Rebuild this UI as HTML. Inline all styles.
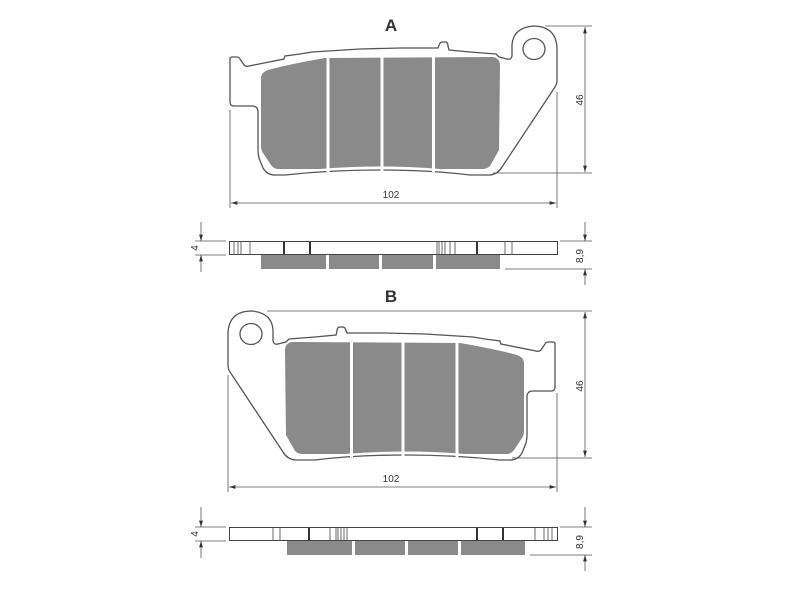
<!DOCTYPE html>
<html><head><meta charset="utf-8"><style>
html,body{margin:0;padding:0;background:#fff;width:800px;height:600px;overflow:hidden}
svg{display:block}
text{font-family:"Liberation Sans",sans-serif;fill:#333}
</style></head><body>
<svg width="800" height="600" viewBox="0 0 800 600" xmlns="http://www.w3.org/2000/svg">
<defs>
<g id="pad">
  <path d="M230,59 Q230,57 232,57 L237,57 Q239,57 240,59 L244,65 Q246,67 249,66 L284,59 L285,56 L300,54 L312,52 L360,49 L400,48 L438,48 L440,43 Q441,42 443,42 L446,42 Q448,43 448,46 L449,50 L470,52 L496,54 L499,57 L507,59 Q511,60 512,56 L512,45 Q513,28 533,26 Q556,26 557,48 L557,80 Q557,84 555,87 L502,167 Q498,174 490,175 L470,175 Q430,170 380,170 Q330,170 285,175 L275,175 Q267,175 263,168 L259,158 Q258,154 258,150 L258,112 Q258,106 252,106 L234,106 Q230,106 230,102 Z" fill="#fff" stroke="#555" stroke-width="1.3"/>
  <ellipse cx="534" cy="49" rx="11" ry="10.5" fill="#fff" stroke="#555" stroke-width="1.3"/>
  <path d="M268,70 Q290,64 325,58 L493,57 Q500,58 500,66 L499,150 L490,166 Q487,169 482,169 L440,169 Q380,164 320,169 L278,169 Q274,169 271,165 L263,153 Q261,150 261,146 L261,77 Q262,72 268,70 Z" fill="#8a8a8a"/>
  <rect x="326.5" y="55" width="3" height="117" fill="#fff"/>
  <rect x="380.5" y="55" width="3" height="117" fill="#fff"/>
  <rect x="432" y="55" width="3" height="117" fill="#fff"/>
</g>
<marker id="ar" viewBox="0 0 10 10" refX="10" refY="5" markerWidth="8" markerHeight="8" orient="auto-start-reverse"><path d="M0,2 L10,5 L0,8 Z" fill="#333"/></marker>
</defs>

<!-- A -->
<text x="391" y="31" font-size="17" font-weight="bold" text-anchor="middle">A</text>
<use href="#pad"/>
<g stroke="#555" stroke-width="0.8" fill="none">
  <line x1="545" y1="26" x2="592" y2="26"/>
  <line x1="493" y1="173" x2="592" y2="173"/>
  <line x1="585" y1="27" x2="585" y2="172" marker-start="url(#ar)" marker-end="url(#ar)"/>
  <line x1="230" y1="110" x2="230" y2="208"/>
  <line x1="557" y1="92" x2="557" y2="208"/>
  <line x1="231" y1="203" x2="556" y2="203" marker-start="url(#ar)" marker-end="url(#ar)"/>
</g>
<text x="391" y="198" font-size="10" text-anchor="middle">102</text>
<text transform="translate(583,100) rotate(-90)" font-size="10" text-anchor="middle">46</text>

<!-- Side A -->
<g id="sideA">
<rect x="261" y="255" width="239" height="14" fill="#8a8a8a"/>
<rect x="326" y="255" width="3" height="14" fill="#fff"/>
<rect x="379" y="255" width="3" height="14" fill="#fff"/>
<rect x="433" y="255" width="3" height="14" fill="#fff"/>
<rect x="229.5" y="241.5" width="328" height="13" fill="#fff" stroke="#444" stroke-width="1"/>
<g stroke="#444" stroke-width="0.8">
<line x1="234" y1="242" x2="234" y2="254"/><line x1="238" y1="242" x2="238" y2="254"/><line x1="241" y1="242" x2="241" y2="254"/><line x1="250" y1="242" x2="250" y2="254"/>
<line x1="437" y1="242" x2="437" y2="254"/><line x1="439" y1="242" x2="439" y2="254"/><line x1="442" y1="242" x2="442" y2="254"/><line x1="445" y1="242" x2="445" y2="254"/><line x1="450" y1="242" x2="450" y2="254"/><line x1="455" y1="242" x2="455" y2="254"/>
<line x1="505" y1="242" x2="505" y2="254"/><line x1="512" y1="242" x2="512" y2="254"/>
</g>
<rect x="283" y="242" width="2" height="12" fill="#333"/>
<rect x="309" y="242" width="2" height="12" fill="#333"/>
<rect x="476" y="242" width="2" height="12" fill="#333"/>
</g>
<g stroke="#555" stroke-width="0.8" fill="none">
  <line x1="195" y1="241" x2="226" y2="241"/>
  <line x1="195" y1="255" x2="226" y2="255"/>
  <line x1="201" y1="222" x2="201" y2="241" marker-end="url(#ar)"/>
  <line x1="201" y1="272" x2="201" y2="255" marker-end="url(#ar)"/>
  <line x1="560" y1="241" x2="592" y2="241"/>
  <line x1="505" y1="269" x2="592" y2="269"/>
  <line x1="585" y1="222" x2="585" y2="241" marker-end="url(#ar)"/>
  <line x1="585" y1="285" x2="585" y2="269" marker-end="url(#ar)"/>
</g>
<text transform="translate(198,248) rotate(-90)" font-size="10" text-anchor="middle">4</text>
<text transform="translate(583,256) rotate(-90)" font-size="10" text-anchor="middle">8,9</text>

<!-- B -->
<text x="391" y="302" font-size="17" font-weight="bold" text-anchor="middle">B</text>
<use href="#pad" transform="translate(785,285) scale(-1,1)"/>
<g stroke="#555" stroke-width="0.8" fill="none">
  <line x1="267" y1="311" x2="592" y2="311"/>
  <line x1="512" y1="458" x2="592" y2="458"/>
  <line x1="585" y1="312" x2="585" y2="457" marker-start="url(#ar)" marker-end="url(#ar)"/>
  <line x1="228" y1="375" x2="228" y2="492"/>
  <line x1="557" y1="393" x2="557" y2="492"/>
  <line x1="229" y1="487" x2="556" y2="487" marker-start="url(#ar)" marker-end="url(#ar)"/>
</g>
<text x="391" y="482" font-size="10" text-anchor="middle">102</text>
<text transform="translate(583,386) rotate(-90)" font-size="10" text-anchor="middle">46</text>

<!-- Side B -->
<rect x="287" y="541" width="238" height="14" fill="#8a8a8a"/>
<rect x="352" y="541" width="3" height="14" fill="#fff"/>
<rect x="405" y="541" width="3" height="14" fill="#fff"/>
<rect x="458" y="541" width="3" height="14" fill="#fff"/>
<rect x="229.5" y="527.5" width="328" height="13" fill="#fff" stroke="#444" stroke-width="1"/>
<g stroke="#444" stroke-width="0.8">
<line x1="273" y1="528" x2="273" y2="540"/><line x1="280" y1="528" x2="280" y2="540"/>
<line x1="330" y1="528" x2="330" y2="540"/><line x1="336" y1="528" x2="336" y2="540"/><line x1="338" y1="528" x2="338" y2="540"/><line x1="341" y1="528" x2="341" y2="540"/><line x1="344" y1="528" x2="344" y2="540"/><line x1="347" y1="528" x2="347" y2="540"/>
<line x1="535" y1="528" x2="535" y2="540"/><line x1="544" y1="528" x2="544" y2="540"/><line x1="548" y1="528" x2="548" y2="540"/><line x1="552" y1="528" x2="552" y2="540"/>
</g>
<rect x="308" y="528" width="2" height="12" fill="#333"/>
<rect x="476" y="528" width="2" height="12" fill="#333"/>
<rect x="502" y="528" width="2" height="12" fill="#333"/>
<g stroke="#555" stroke-width="0.8" fill="none">
  <line x1="195" y1="527" x2="226" y2="527"/>
  <line x1="195" y1="541" x2="226" y2="541"/>
  <line x1="201" y1="507" x2="201" y2="527" marker-end="url(#ar)"/>
  <line x1="201" y1="558" x2="201" y2="541" marker-end="url(#ar)"/>
  <line x1="560" y1="527" x2="592" y2="527"/>
  <line x1="530" y1="555" x2="592" y2="555"/>
  <line x1="585" y1="507" x2="585" y2="527" marker-end="url(#ar)"/>
  <line x1="585" y1="571" x2="585" y2="555" marker-end="url(#ar)"/>
</g>
<text transform="translate(198,534) rotate(-90)" font-size="10" text-anchor="middle">4</text>
<text transform="translate(583,542) rotate(-90)" font-size="10" text-anchor="middle">8,9</text>
</svg>
</body></html>
